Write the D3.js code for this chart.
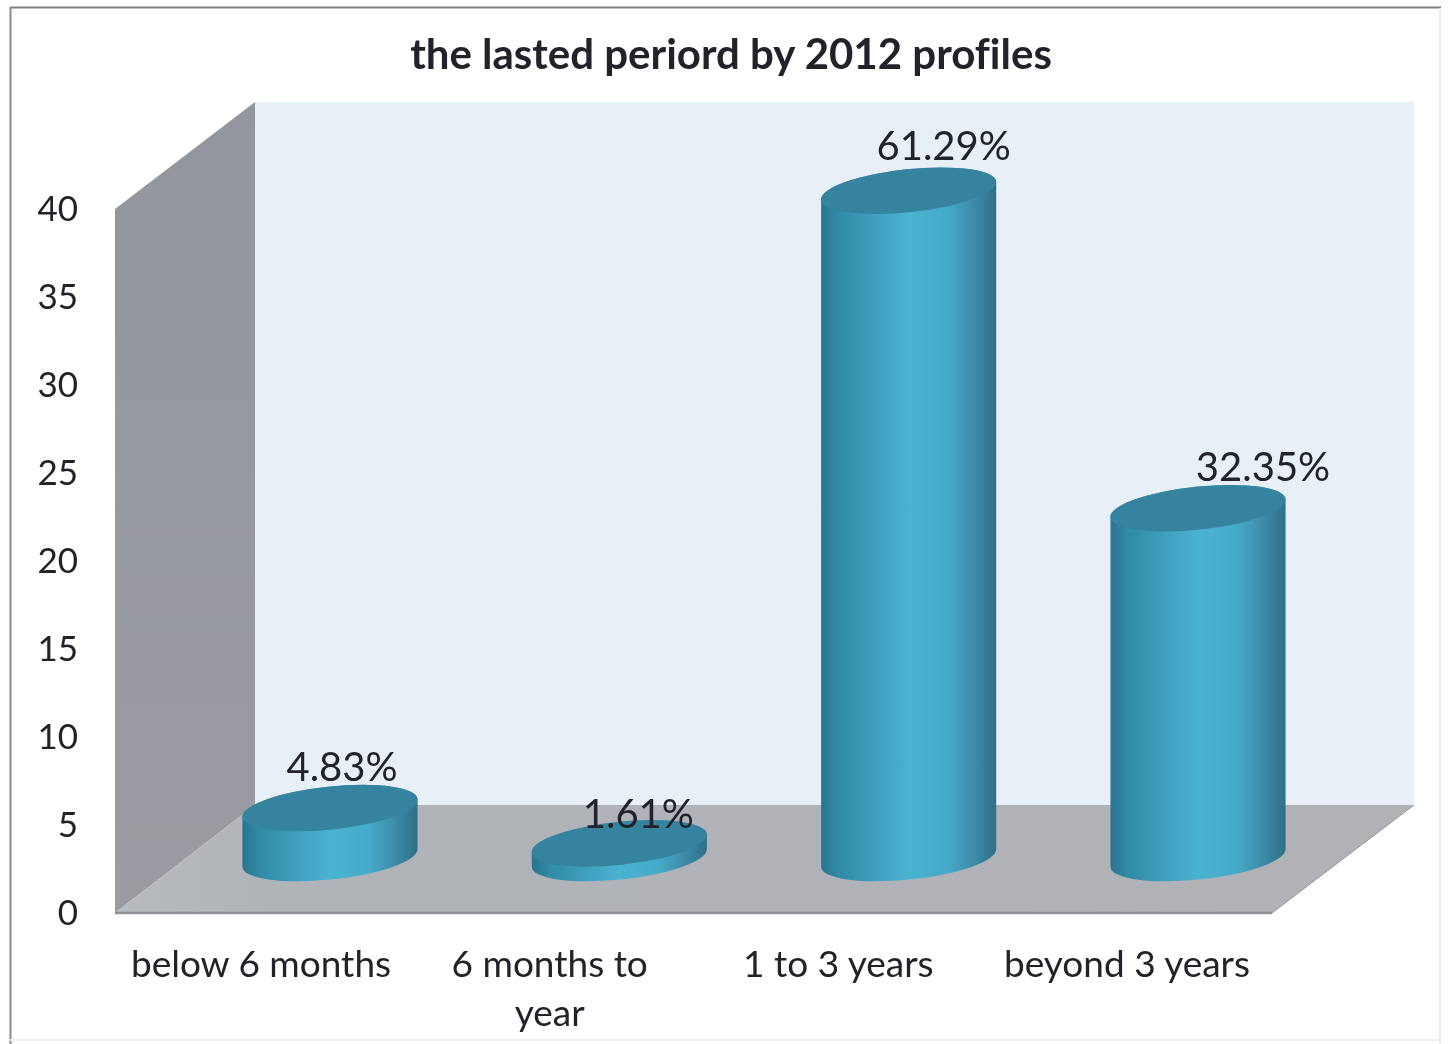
<!DOCTYPE html>
<html><head><meta charset="utf-8">
<script src="https://cdn.jsdelivr.net/npm/d3@7/dist/d3.min.js"></script>
<style>html,body{margin:0;padding:0;background:#fff}svg{display:block}text{font-family:Lato,"Open Sans",sans-serif;fill:#20242a;font-variant-ligatures:none}</style>
</head><body><div id="c"></div>
<script>
const titleText = "the lasted periord by 2012 profiles";
const categories = ["below 6 months", "6 months to year", "1 to 3 years", "beyond 3 years"];
const values = [3, 1, 38, 20];
const dataLabels = ["4.83%", "1.61%", "61.29%", "32.35%"];
const yTicks = [0, 5, 10, 15, 20, 25, 30, 35, 40];

const W = 1451, H = 1044;
const root = d3.select("#c").append("svg").attr("width", W).attr("height", H);
const defs = root.append("defs");
const blur = defs.append("filter").attr("id", "soft").attr("x", 0).attr("y", 0).attr("width", 1).attr("height", 1);
blur.append("feGaussianBlur").attr("stdDeviation", 0.55);
root.append("rect").attr("width", W).attr("height", H).attr("fill", "#fff");
const svg = root.append("g").attr("filter", "url(#soft)");
svg.append("rect").attr("width", W).attr("height", H).attr("fill", "#fff");

// scales
const yAxis = d3.scaleLinear().domain([0, 40]).range([913, 209]);
const yBar = d3.scaleLinear().domain([0, 40]).range([861, 155.4]);
const xLabel = d3.scalePoint().domain(categories).range([261, 1127]);
const xBar = d3.scalePoint().domain(categories).range([330, 1198]);

// gradients
const g = defs.append("linearGradient").attr("id", "cyl");
[[0,"#2a7590"],[0.1,"#318aa6"],[0.3,"#3f9fbd"],[0.5,"#4bb2d0"],[0.72,"#45abca"],[0.86,"#3f8dab"],[1,"#2c7089"]]
  .forEach(s => g.append("stop").attr("offset", s[0]).attr("stop-color", s[1]));
const wallG = defs.append("linearGradient").attr("id", "wall").attr("x1", 0).attr("x2", 0).attr("y1", 0).attr("y2", 1);
wallG.append("stop").attr("offset", 0).attr("stop-color", "#93969d");
wallG.append("stop").attr("offset", 1).attr("stop-color", "#9a9ca2");
const floorG = defs.append("linearGradient").attr("id", "floor").attr("x1", 0).attr("x2", 1).attr("y1", 0).attr("y2", 0);
floorG.append("stop").attr("offset", 0).attr("stop-color", "#b8bbc0");
floorG.append("stop").attr("offset", 0.12).attr("stop-color", "#b0b3b8");
floorG.append("stop").attr("offset", 1).attr("stop-color", "#b0b2b6");

// frame
const frameLine = (x1, y1, x2, y2, c, w) => svg.append("line").attr("x1", x1).attr("y1", y1).attr("x2", x2).attr("y2", y2).attr("stroke", c).attr("stroke-width", w);
frameLine(10, 7.5, 1441, 7.5, "#7f7f7f", 2);
frameLine(10.5, 7, 10.5, 1044, "#8a8a8a", 2);
frameLine(1440, 8, 1440, 1044, "#ececec", 2);
frameLine(10, 1040, 1440, 1040, "#f0f0f0", 2);

const poly = (pts, fill) => svg.append("polygon").attr("points", pts.map(p => p.join(",")).join(" ")).attr("fill", fill);
const x0 = 115, x1 = 255, x2 = 1414, x3 = 1272;
const yBack = yAxis(0) - 108, yTopBack = yAxis(40) - 107;
poly([[x1, yTopBack], [x2, yTopBack], [x2, yBack], [x1, yBack]], "#e9eff6");
poly([[x0, yAxis(40)], [x1, yTopBack], [x1, yBack], [x0, yAxis(0)]], "url(#wall)");
poly([[x0, yAxis(0)], [x1, yBack], [x2, yBack], [x3, yAxis(0)]], "url(#floor)");
frameLine(x0, yAxis(0), x3, yAxis(0), "#8f9196", 2.5);
frameLine(x3, yAxis(0), x2, yBack, "#96989c", 1);

// cylinders
const a = 88, b = 21.5, phi = -6 * Math.PI / 180;
const ex = Math.sqrt(a*a*Math.cos(phi)**2 + b*b*Math.sin(phi)**2);
const ey = (a*a - b*b) * Math.sin(phi) * Math.cos(phi) / ex;
const rot = phi * 180 / Math.PI;
svg.append("g").selectAll("g").data(values).join("g").each(function(v, i) {
  const cx = xBar(categories[i]), top = yBar(v), base = yBar(0) - 3;
  const s = d3.select(this);
  s.append("path").attr("fill", "url(#cyl)").attr("d",
    `M${cx-ex},${top-ey} L${cx-ex},${base-ey} A${a},${b} ${rot} 0 0 ${cx+ex},${base+ey} L${cx+ex},${top+ey} A${a},${b} ${rot} 0 0 ${cx-ex},${top-ey} Z`);
  s.append("ellipse").attr("cx", cx).attr("cy", top).attr("rx", a).attr("ry", b)
    .attr("transform", `rotate(${rot} ${cx} ${top})`).attr("fill", "#34839f");
});

// y axis labels
const axis = d3.axisLeft(yAxis).tickValues(yTicks).tickSize(0).tickPadding(0);
const ag = svg.append("g").attr("transform", "translate(78,0)").call(axis);
ag.select(".domain").remove();
ag.selectAll("text").attr("font-size", 35).style("font-family", "Lato").attr("fill", "#20242a");

// x labels
const xg = svg.append("g");
categories.forEach(c => {
  const parts = c === "6 months to year" ? ["6 months to", "year"] : [c];
  parts.forEach((t, j) => xg.append("text").attr("x", xLabel(c)).attr("y", 977 + j * 49)
    .attr("text-anchor", "middle").attr("font-size", 37).text(t));
});

// data labels
const dlOffset = [12, 19, 35, 65];
const dlY = [781, 828, 160, 481];
dataLabels.forEach((t, i) => {
  svg.append("text").attr("x", xBar(categories[i]) + dlOffset[i]).attr("y", dlY[i])
    .attr("text-anchor", "middle").attr("font-size", 40).text(t);
});

// title
svg.append("text").attr("x", 731).attr("y", 69).attr("text-anchor", "middle")
  .attr("font-size", 42).attr("font-weight", 700).text(titleText);
</script></body></html>
